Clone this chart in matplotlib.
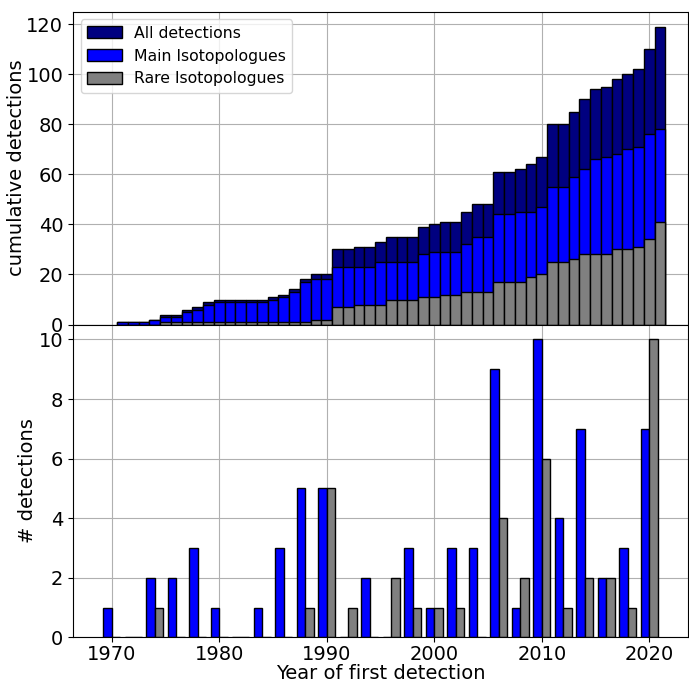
import numpy as np
import matplotlib
matplotlib.use("Agg")
import matplotlib.pyplot as plt

# year of first detection and number of new detections per year
years = np.arange(1970, 2021)
main_new = [1, 0, 0, 1, 1, 0, 2, 1, 2, 1,
            0, 0, 0, 0, 1, 1, 2, 4, 1, 0,
            5, 0, 0, 0, 2, 0, 0, 0, 3, 1,
            0, 0, 3, 3, 0, 9, 0, 1, 0, 2,
            8, 0, 4, 3, 4, 1, 1, 2, 1, 5,
            2]
rare_new = [0, 0, 0, 0, 1, 0, 0, 0, 0, 0,
            0, 0, 0, 0, 0, 0, 0, 0, 1, 0,
            5, 0, 1, 0, 0, 2, 0, 0, 1, 0,
            1, 0, 1, 0, 0, 4, 0, 0, 2, 1,
            5, 0, 1, 2, 0, 0, 2, 0, 1, 3,
            7]

main_new = np.array(main_new)
rare_new = np.array(rare_new)
all_new = main_new + rare_new

fig, (ax1, ax2) = plt.subplots(2, 1, sharex=True, figsize=(6.89, 6.84), dpi=100)
fig.subplots_adjust(left=0.106, right=0.9985, top=0.983, bottom=0.068, hspace=0)

# cumulative
ax1.bar(years + 0.5, np.cumsum(all_new), width=1, align="edge", color="navy",
        edgecolor="black", label="All detections")
ax1.bar(years + 0.5, np.cumsum(main_new), width=1, align="edge", color="blue",
        edgecolor="black", label="Main Isotopologues")
ax1.bar(years + 0.5, np.cumsum(rare_new), width=1, align="edge", color="gray",
        edgecolor="black", label="Rare Isotopologues")
ax1.set_ylabel("cumulative detections", fontsize=14, labelpad=0)
ax1.legend(loc="upper left", fontsize=11.3, handlelength=2.2, handleheight=0.8)
ax1.grid(True)
ax1.set_axisbelow(True)
ax1.tick_params(labelsize=14)

# per two-year bin
bins = np.arange(1969, 2022, 2)
ax2.hist([years, years], bins=bins, weights=[main_new, rare_new],
         color=["blue", "gray"], edgecolor="black")
ax2.set_ylabel("# detections", fontsize=14, labelpad=1)
ax2.set_xlabel("Year of first detection", fontsize=14, labelpad=0)
ax2.grid(True)
ax2.set_axisbelow(True)
ax2.tick_params(axis="y", labelsize=14)
ax2.tick_params(axis="x", labelsize=14, pad=2)
ax2.set_xlim(1966.4, 2023.6)

plt.savefig("out.png", dpi=100)
